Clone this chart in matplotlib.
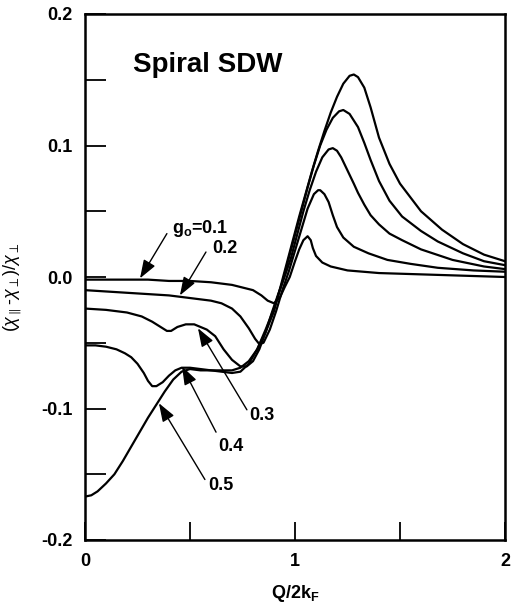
import numpy as np
import matplotlib
matplotlib.use('Agg')
import matplotlib.pyplot as plt

plt.rcParams['font.family'] = ['Liberation Sans', 'DejaVu Sans']
plt.rcParams['mathtext.fontset'] = 'custom'
plt.rcParams['mathtext.rm'] = 'Liberation Sans'
plt.rcParams['mathtext.it'] = 'Liberation Sans:italic'
plt.rcParams['mathtext.bf'] = 'Liberation Sans:bold'

# curves, one per coupling g_o
x_g01 = [0, 0.1, 0.2, 0.3, 0.4, 0.5, 0.6, 0.7, 0.75, 0.8, 0.84, 0.87, 0.9, 0.93, 0.95, 0.975,
         1.0, 1.02, 1.04, 1.06, 1.075, 1.085, 1.1, 1.13, 1.17, 1.25, 1.4, 1.6, 1.8, 2.0]
y_g01 = [-0.002, -0.002, -0.002, -0.002, -0.003, -0.003, -0.004, -0.006, -0.008, -0.010, -0.014,
         -0.018, -0.020, -0.015, -0.008, 0.0, 0.012, 0.021, 0.028, 0.031, 0.028, 0.022, 0.016,
         0.011, 0.008, 0.005, 0.003, 0.002, 0.001, 0.0]

x_g02 = [0, 0.1, 0.2, 0.3, 0.4, 0.45, 0.5, 0.55, 0.6, 0.65, 0.7, 0.74, 0.78, 0.81, 0.83, 0.85,
         0.88, 0.91, 0.94, 0.97, 1.0, 1.03, 1.06, 1.09, 1.11, 1.12, 1.14, 1.16, 1.18, 1.2, 1.23,
         1.28, 1.35, 1.44, 1.55, 1.68, 1.85, 2.0]
y_g02 = [-0.010, -0.011, -0.012, -0.013, -0.014, -0.015, -0.016, -0.017, -0.018, -0.020, -0.024,
         -0.030, -0.039, -0.047, -0.051, -0.050, -0.040, -0.026, -0.010, 0.004, 0.020, 0.036,
         0.052, 0.063, 0.066, 0.066, 0.063, 0.057, 0.047, 0.038, 0.030, 0.023, 0.018, 0.013,
         0.010, 0.007, 0.005, 0.004]

x_g03 = [0, 0.1, 0.2, 0.27, 0.32, 0.36, 0.39, 0.41, 0.44, 0.48, 0.52, 0.55, 0.58, 0.62, 0.66,
         0.7, 0.74, 0.77, 0.8, 0.83, 0.86, 0.89, 0.92, 0.95, 0.98, 1.01, 1.04, 1.07, 1.1, 1.13,
         1.16, 1.18, 1.2, 1.22, 1.25, 1.28, 1.3, 1.33, 1.36, 1.4, 1.45, 1.51, 1.6, 1.75, 1.9, 2.0]
y_g03 = [-0.024, -0.025, -0.027, -0.030, -0.034, -0.038, -0.041, -0.041, -0.038, -0.036, -0.036,
         -0.038, -0.040, -0.045, -0.055, -0.063, -0.068, -0.068, -0.064, -0.055, -0.042, -0.027,
         -0.013, 0.0, 0.014, 0.032, 0.050, 0.066, 0.080, 0.091, 0.097, 0.098, 0.096, 0.091,
         0.081, 0.071, 0.064, 0.055, 0.047, 0.040, 0.033, 0.028, 0.021, 0.013, 0.008, 0.006]

x_g04 = [0, 0.05, 0.1, 0.15, 0.19, 0.22, 0.25, 0.28, 0.3, 0.32, 0.34, 0.37, 0.4, 0.43, 0.46,
         0.5, 0.55, 0.6, 0.65, 0.7, 0.74, 0.78, 0.82, 0.86, 0.9, 0.94, 0.97, 1.0, 1.03, 1.06,
         1.09, 1.12, 1.15, 1.18, 1.21, 1.23, 1.26, 1.3, 1.33, 1.36, 1.4, 1.45, 1.51, 1.6, 1.68,
         1.8, 1.9, 2.0]
y_g04 = [-0.052, -0.052, -0.053, -0.055, -0.058, -0.061, -0.066, -0.073, -0.079, -0.083, -0.083,
         -0.080, -0.075, -0.071, -0.069, -0.069, -0.070, -0.071, -0.072, -0.073, -0.072, -0.066,
         -0.055, -0.040, -0.024, -0.004, 0.014, 0.032, 0.050, 0.068, 0.085, 0.100, 0.112, 0.121,
         0.126, 0.127, 0.124, 0.114, 0.102, 0.089, 0.073, 0.058, 0.046, 0.035, 0.027, 0.018,
         0.012, 0.009]

x_g05 = [0, 0.03, 0.06, 0.1, 0.14, 0.18, 0.22, 0.26, 0.3, 0.34, 0.38, 0.42, 0.46, 0.5, 0.55,
         0.6, 0.65, 0.7, 0.74, 0.78, 0.82, 0.86, 0.9, 0.93, 0.96, 0.99, 1.02, 1.05, 1.08, 1.11,
         1.14, 1.17, 1.2, 1.23, 1.26, 1.28, 1.3, 1.33, 1.36, 1.4, 1.45, 1.5, 1.6, 1.7, 1.8, 1.9,
         2.0]
y_g05 = [-0.167, -0.166, -0.163, -0.157, -0.150, -0.140, -0.129, -0.118, -0.107, -0.097, -0.087,
         -0.078, -0.072, -0.070, -0.071, -0.071, -0.071, -0.071, -0.069, -0.064, -0.055, -0.042,
         -0.026, -0.008, 0.010, 0.028, 0.046, 0.063, 0.080, 0.096, 0.111, 0.125, 0.137, 0.147,
         0.153, 0.154, 0.152, 0.144, 0.129, 0.106, 0.086, 0.071, 0.050, 0.036, 0.025, 0.017,
         0.012]

curves = [(x_g01, y_g01), (x_g02, y_g02), (x_g03, y_g03), (x_g04, y_g04), (x_g05, y_g05)]

# labels and where their arrows point
label_texts = [r'$\mathbf{g_o}$=0.1', '0.2', '0.3', '0.4', '0.5']
label_pos = [(0.414, 0.0335), (0.605, 0.018), (0.781, -0.109), (0.633, -0.132), (0.586, -0.162)]
arrow_start = [(0.39, 0.033), (0.576, 0.019), (0.771, -0.101), (0.624, -0.118), (0.571, -0.154)]
arrow_tip = [(0.262, -0.001), (0.452, -0.014), (0.538, -0.039), (0.462, -0.068), (0.352, -0.096)]

fig = plt.figure(figsize=(5.11, 6.15), dpi=100)
ax = fig.add_axes([85 / 511, 75 / 615, 420 / 511, 526 / 615])

for xs, ys in curves:
    ax.plot(xs, ys, color='black', lw=1.6, solid_joinstyle='round')

for txt, pos, st, tip in zip(label_texts, label_pos, arrow_start, arrow_tip):
    ax.text(pos[0], pos[1], txt, fontsize=13, fontweight='bold', ha='left', va='baseline')
    ax.annotate('', xy=tip, xytext=st,
                arrowprops=dict(arrowstyle='-|>,head_length=0.7,head_width=0.25', color='black',
                                lw=1.0, mutation_scale=16, shrinkA=0, shrinkB=0))

ax.text(0.229, 0.156, 'Spiral SDW', fontsize=20, fontweight='bold', ha='left', va='baseline')

ax.set_xlim(0, 2)
ax.set_ylim(-0.2, 0.2)
ax.set_xticks([0, 1, 2])
ax.set_xticklabels(['0', '1', '2'])
ax.set_xticks([0.5, 1.5], minor=True)
ax.set_yticks([-0.2, -0.1, 0.0, 0.1, 0.2])
ax.set_yticklabels(['-0.2', '-0.1', '0.0', '0.1', '0.2'])
ax.set_yticks([-0.15, -0.05, 0.05, 0.15], minor=True)

ax.tick_params(axis='both', which='both', direction='in', width=1.3, labelsize=13, pad=9)
ax.tick_params(axis='y', which='both', length=15)
ax.tick_params(axis='x', which='both', length=13)
for lab in ax.get_xticklabels() + ax.get_yticklabels():
    lab.set_fontweight('bold')

for sp in ax.spines.values():
    sp.set_linewidth(1.8)

ax.set_xlabel(r'$\mathbf{Q/2k_F}$', fontsize=13)
ax.xaxis.set_label_coords(0.5, -0.082)
ax.set_ylabel(r'$(\chi_{\parallel}$-$\chi_{\perp})/\chi_{\perp}$', fontsize=13)
ax.yaxis.set_label_coords(-0.145, 0.481)

plt.savefig('out.png', dpi=100)
